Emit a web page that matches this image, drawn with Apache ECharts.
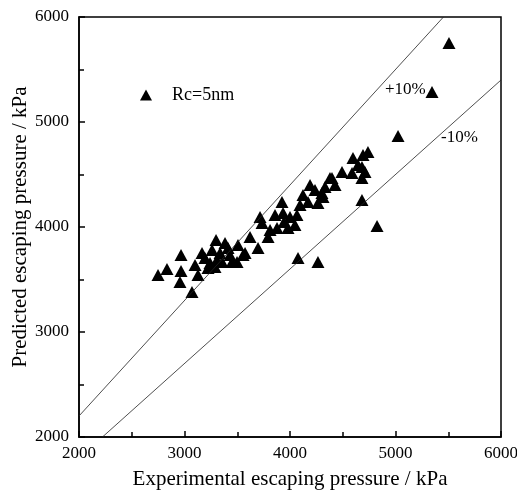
<!doctype html>
<html>
<head>
<meta charset="UTF-8">
<title>Escaping pressure</title>
<script src="https://cdn.jsdelivr.net/npm/echarts@6/dist/echarts.min.js"></script>
<style>
  html, body { margin: 0; padding: 0; background: #fff; }
  #chart { width: 517px; height: 491px; }
</style>
</head>
<body>
<div id="chart"></div>
<script>
// experimental vs predicted (kPa)
var expP = [2749, 2834, 2967, 2967, 2957, 3071, 3100, 3128, 3166, 3299, 3384, 3242, 3308, 3337,
  3223, 3289, 3498, 3507, 3574, 3555, 3621, 3697, 3716, 3735, 3792, 3858, 3877, 3924, 3934, 4000,
  4047, 4066, 4123, 4171, 4237, 4265, 4313, 4379, 4427, 4076, 4265, 4597, 4692, 4739, 4493, 4588,
  4682, 4682, 4398, 4332, 4303, 4682, 4825, 5024, 5346, 5507,
  3261, 3356, 3194, 3431, 3413, 3450, 4190, 4095, 4645, 4711, 3943, 3811, 3981];
var predP = [3543, 3600, 3733, 3581, 3476, 3381, 3638, 3543, 3752, 3876, 3848, 3657, 3686, 3752,
  3610, 3619, 3667, 3829, 3752, 3733, 3905, 3800, 4095, 4038, 3905, 4114, 3990, 4238, 4133, 4095,
  4019, 4114, 4305, 4238, 4352, 4229, 4286, 4467, 4400, 3705, 3667, 4657, 4686, 4714, 4524, 4514,
  4571, 4467, 4467, 4381, 4324, 4257, 4010, 4867, 5286, 5752,
  3781, 3667, 3705, 3733, 3800, 3667, 4400, 4210, 4590, 4524, 4048, 3971, 3990];

// +/-10% reference lines
var upperLine = [[2000, 2200], [5454.5, 6000]];
var lowerLine = [[2222.2, 2000], [6000, 5400]];

var points = expP.map(function (x, i) { return [x, predP[i]]; });

var serif = 'Liberation Serif, Times New Roman, serif';
var chart = echarts.init(document.getElementById('chart'));

function plain(v) { return String(v); }

chart.setOption({
  animation: false,
  backgroundColor: '#fff',
  grid: {
    left: 79, right: 16, top: 17, bottom: 54,
    outerBoundsMode: 'none', containLabel: false,
    show: true, borderColor: '#000', borderWidth: 1.5
  },
  legend: {
    data: [{ name: 'Rc=5nm', icon: 'triangle' }],
    left: 140, top: 86, padding: 0,
    itemWidth: 12, itemHeight: 11,
    textStyle: { fontFamily: serif, fontSize: 18, color: '#000', padding: [0, 0, 0, 15] }
  },
  xAxis: {
    type: 'value', min: 2000, max: 6000, interval: 1000,
    name: 'Experimental escaping pressure / kPa',
    nameLocation: 'middle', nameGap: 32, nameMoveOverlap: false,
    nameTextStyle: { fontFamily: serif, fontSize: 21, color: '#000' },
    axisLine: { lineStyle: { color: '#000', width: 1.5 } },
    axisTick: { inside: true, length: 6, lineStyle: { color: '#000', width: 1.5 } },
    minorTick: { show: true, splitNumber: 2, length: 5, lineStyle: { color: '#000', width: 1.5 } },
    axisLabel: { fontFamily: serif, fontSize: 17, color: '#000', margin: 8, formatter: plain },
    splitLine: { show: false }
  },
  yAxis: {
    type: 'value', min: 2000, max: 6000, interval: 1000,
    name: 'Predicted escaping pressure / kPa',
    nameLocation: 'middle', nameGap: 48, nameMoveOverlap: false,
    nameTextStyle: { fontFamily: serif, fontSize: 21, color: '#000' },
    axisLine: { lineStyle: { color: '#000', width: 1.5 } },
    axisTick: { inside: true, length: 6, lineStyle: { color: '#000', width: 1.5 } },
    minorTick: { show: true, splitNumber: 2, length: 5, lineStyle: { color: '#000', width: 1.5 } },
    axisLabel: { fontFamily: serif, fontSize: 17, color: '#000', margin: 10, formatter: plain },
    splitLine: { show: false }
  },
  graphic: [
    { type: 'text', left: 385, top: 81, style: { text: '+10%', font: '17px ' + serif, fill: '#000' } },
    { type: 'text', left: 441, top: 129, style: { text: '-10%', font: '17px ' + serif, fill: '#000' } }
  ],
  series: [
    {
      type: 'line', data: upperLine, symbol: 'none', silent: true,
      lineStyle: { color: '#222', width: 0.8 }
    },
    {
      type: 'line', data: lowerLine, symbol: 'none', silent: true,
      lineStyle: { color: '#222', width: 0.8 }
    },
    {
      name: 'Rc=5nm', type: 'scatter', data: points,
      symbol: 'triangle', symbolSize: [13, 12],
      itemStyle: { color: '#000', opacity: 1 }
    }
  ]
});
</script>
</body>
</html>
